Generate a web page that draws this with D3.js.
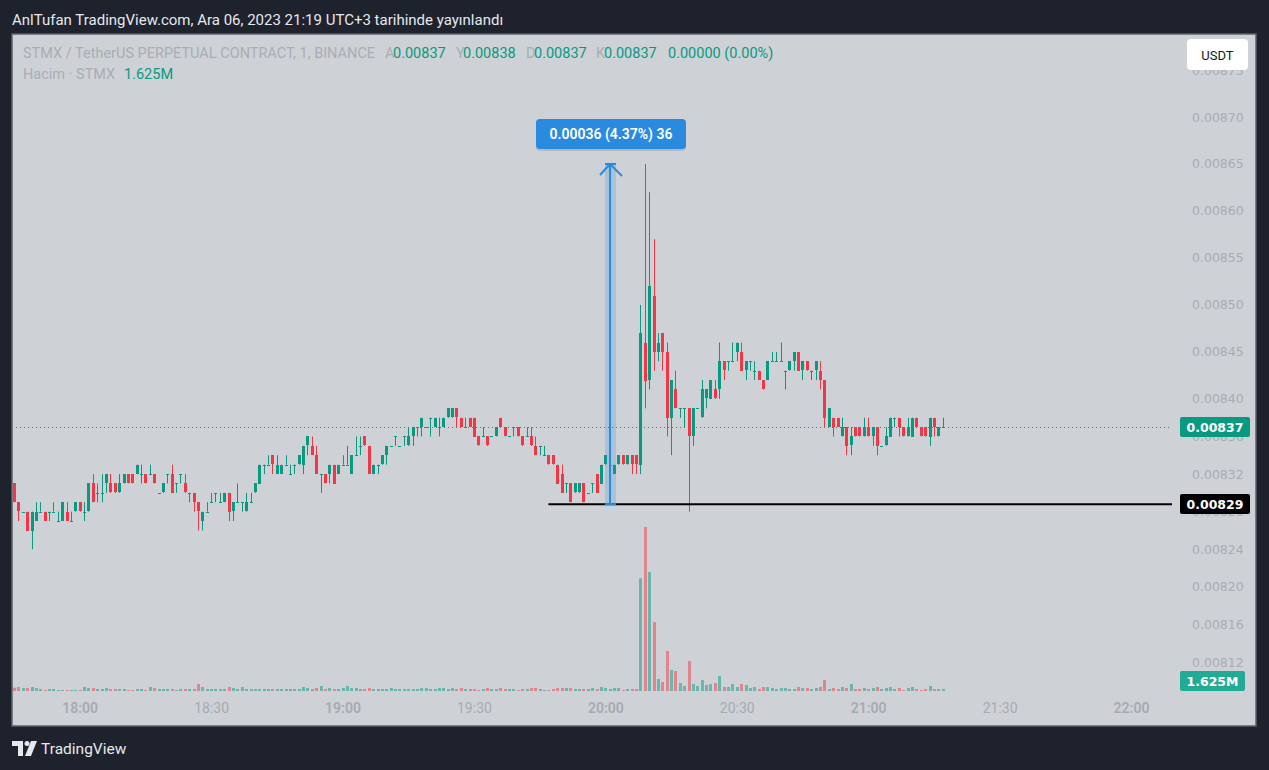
<!DOCTYPE html>
<html>
<head>
<meta charset="utf-8">
<script src="https://cdn.jsdelivr.net/npm/d3@7"></script>
<style>
  body { margin: 0; background: #1e222d; }
  svg { display: block; }
</style>
</head>
<body>
<div id="chart"></div>
<script>
// STMX/USDT perp, 1 minute candles from 17:45, prices in 0.00001 steps
const opens = [831,829,828,828,826,827,828,828,828,828,827,827,828,827,828,829,828,828,831,830,
  830,831,831,831,830,831,832,832,832,832,832,832,832,830,830,832,832,831,832,831,
  830,830,829,827,828,829,830,829,829,830,828,829,829,828,829,830,831,833,833,834,
  832,832,833,832,833,833,833,835,835,834,832,832,832,833,832,833,833,832,834,835,
  836,835,832,833,833,834,835,836,835,836,835,836,837,837,837,838,837,837,837,838,
  838,839,838,837,838,838,836,836,836,836,836,838,837,836,837,837,836,836,836,835,
  835,834,834,834,833,832,831,831,830,830,831,830,831,832,831,833,833,832,833,834,
  833,834,834,833,846,842,851,845,847,845,838,841,839,839,839,836,839,838,840,840,
  841,841,844,844,844,845,845,843,844,843,843,842,842,844,844,844,843,843,844,845,
  843,844,843,843,843,842,837,838,838,836,837,835,837,837,836,837,836,837,835,835,
  836,838,838,837,836,836,838,837,837,836,838,836,837];
const highs = [831,829,828,828,828,829,829,828,828,829,828,829,829,828,829,829,829,831,832,831,
  832,832,832,831,832,832,832,832,833,833,832,833,832,830,831,832,833,831,832,832,
  830,830,829,828,829,830,830,830,830,830,829,831,829,830,830,831,833,833,834,834,
  834,833,834,833,833,834,835,836,836,835,832,832,833,833,833,834,835,834,836,836,
  836,835,833,833,834,835,835,836,835,836,837,837,837,838,837,838,838,838,838,839,
  839,839,838,838,838,838,836,837,836,836,837,838,837,836,837,837,836,837,837,836,
  835,835,834,834,833,833,831,831,831,831,831,830,831,832,833,834,834,833,834,834,
  834,834,834,850,865,862,857,847,847,846,842,843,839,839,839,839,839,842,841,842,
  842,846,844,844,846,846,846,844,844,844,843,842,844,845,845,846,843,844,845,845,
  844,844,843,844,844,842,839,838,838,838,837,837,837,837,838,838,837,837,835,837,
  838,838,838,837,838,838,838,837,837,838,838,837,838];
const lows = [829,827,828,826,824,827,828,827,827,828,827,827,827,827,828,828,827,828,829,829,
  829,830,830,830,830,831,831,831,832,831,831,832,831,830,830,831,830,830,831,830,
  829,828,826,826,828,829,829,829,829,827,827,829,828,828,829,830,831,832,833,832,
  832,832,833,832,832,833,832,834,834,832,830,831,831,831,832,833,833,832,834,834,
  835,832,832,832,833,833,835,835,835,835,835,835,836,836,837,836,837,836,837,838,
  838,837,837,837,837,836,835,836,835,836,836,837,836,836,836,836,835,836,835,834,
  834,834,833,833,831,830,830,829,830,830,829,830,830,830,831,833,833,832,833,833,
  833,832,832,832,839,841,843,844,843,836,834,839,838,837,828,835,839,838,839,840,
  840,840,842,843,844,844,843,842,843,842,842,841,842,844,844,844,841,843,843,843,
  842,843,842,842,841,837,837,836,837,836,834,834,836,836,836,836,835,834,835,835,
  836,837,836,836,836,836,837,836,836,835,836,836,837];
const closes = [829,828,828,826,828,828,828,827,828,828,827,829,827,827,829,828,828,831,829,830,
  830,832,830,830,831,832,831,831,833,832,831,832,831,830,831,832,830,831,832,830,
  830,829,828,828,828,829,830,829,830,828,829,829,829,829,829,831,833,833,833,833,
  833,833,833,832,833,834,835,836,834,832,832,831,833,831,833,833,833,834,834,835,
  835,832,833,833,834,835,835,836,835,836,836,837,837,838,837,838,838,837,838,839,
  839,838,837,837,837,836,835,836,835,836,837,837,836,836,837,836,835,836,835,834,
  835,834,833,833,831,830,831,829,831,831,829,830,831,830,833,834,833,833,834,833,
  834,833,833,847,842,852,845,846,845,838,842,839,839,839,836,839,839,841,841,842,
  840,844,843,844,844,846,843,844,844,843,842,841,844,844,844,844,843,844,845,843,
  844,843,843,844,842,838,839,837,837,837,835,836,836,836,837,836,837,835,835,836,
  838,838,837,836,837,838,837,836,836,838,837,837,837];
// volume per candle, millions of STMX
const volumes = [2.6,3.2,2.4,2.4,3.2,2.4,1.6,0.8,1.6,1.6,0.8,0.8,0.8,0.8,0.8,0.8,3.2,2.4,2.4,1.6,
  1.6,2.4,1.6,1.6,1.6,1.6,0.8,0.8,1.6,1.6,0.8,3.2,2.4,1.6,1.6,1.6,1.6,0.8,1.6,1.6,
  1.6,1.6,5.6,3.2,1.6,1.6,1.6,1.6,1.6,3.2,2.4,1.6,3.2,1.6,1.6,1.6,1.6,1.6,1.6,1.6,
  1.6,1.6,1.6,1.6,1.6,1.6,3.2,2.4,1.6,2.4,4.0,1.6,2.4,1.6,1.6,2.4,4.0,2.4,2.4,1.6,
  1.6,2.4,1.6,1.6,1.6,1.6,2.4,1.6,1.6,1.6,1.6,1.6,1.6,2.4,2.4,1.6,1.6,2.4,2.4,1.6,
  2.4,1.6,2.4,1.6,1.6,1.6,0.8,1.6,2.4,1.6,1.6,2.4,1.6,1.6,1.6,0.8,1.6,1.6,2.4,2.4,
  1.6,0.8,0.8,1.6,2.4,2.4,2.4,2.4,1.6,1.6,1.6,1.6,2.4,1.6,3.2,2.4,1.6,2.4,2.4,0.8,
  1.6,1.6,1.6,90,131,95,55,9.6,7.2,32,16.8,16,6.4,4.0,24,5.6,4.0,8.8,4.8,5.6,
  6.4,12,3.2,3.2,5.6,3.2,5.6,4.8,2.4,3.2,1.6,3.2,3.2,2.4,1.6,2.4,2.4,1.6,1.6,3.2,
  2.4,2.4,1.6,2.4,3.2,8.8,1.6,2.4,1.6,3.2,2.4,5.6,1.6,1.6,2.4,1.6,2.4,3.2,1.6,2.4,
  3.2,1.6,2.4,0.8,2.4,3.2,1.6,0.8,1.6,4.0,1.6,1.6,1.625];

const priceTicks = [0.00875, 0.00870, 0.00865, 0.00860, 0.00855, 0.00850, 0.00845, 0.00840,
  0.00836, 0.00832, 0.00828, 0.00824, 0.00820, 0.00816, 0.00812];
const timeTickLabels = ["18:00", "18:30", "19:00", "19:30", "20:00", "20:30", "21:00", "21:30", "22:00"];

// drawing tool values
const measureFrom = 0.008288, measureTo = 0.00865, measureBars = 36, measureTime = "20:01";
const lineLevel = 0.008288, lineStart = "19:47";
const lastPrice = 0.00837;

const W = 1269, H = 770;
const panel = { left: 12, top: 34, right: 1256, bottom: 726 };
const plotRight = 1172, plotBottom = 697;
const green = "#089981", red = "#f23645";

const day = t => { const [h, m] = t.split(":").map(Number); return new Date(2023, 11, 6, h, m); };
const t0 = day("17:45");
const candles = opens.map((o, i) => ({
  time: d3.timeMinute.offset(t0, i),
  open: o / 1e5, high: highs[i] / 1e5, low: lows[i] / 1e5, close: closes[i] / 1e5,
  volume: volumes[i]
}));

const svg = d3.select("#chart").append("svg")
  .attr("width", W).attr("height", H)
  .style("font-family", "Roboto, 'DejaVu Sans', sans-serif");

svg.append("rect").attr("width", W).attr("height", H).attr("fill", "#1e222d");

// title
svg.append("text")
  .attr("x", 12).attr("y", 25)
  .attr("fill", "#e6e8ee").attr("font-size", 15)
  .text("AnlTufan TradingView.com, Ara 06, 2023 21:19 UTC+3 tarihinde yayınlandı");

// chart panel
svg.append("rect")
  .attr("x", panel.left).attr("y", panel.top)
  .attr("width", panel.right - panel.left).attr("height", panel.bottom - panel.top)
  .attr("fill", "#ced2d6").attr("stroke", "#5d616b").attr("stroke-width", 1.5);

// scales
const x = d3.scaleTime().domain([t0, day("22:00")]).range([14, 1131]);
const y = d3.scaleLinear().domain([0.00812, 0.00870]).range([662, 117]);
const yVol = d3.scaleLinear().domain([0, d3.max(volumes)]).range([691, 527]);

svg.append("clipPath").attr("id", "plot")
  .append("rect").attr("x", panel.left + 1).attr("y", panel.top)
  .attr("width", plotRight - panel.left - 1).attr("height", plotBottom - panel.top);

const plot = svg.append("g").attr("clip-path", "url(#plot)");

// volume
plot.append("g").selectAll("rect").data(candles).join("rect")
  .attr("x", d => Math.round(x(d.time)) - 1)
  .attr("y", d => yVol(d.volume))
  .attr("width", 3)
  .attr("height", d => Math.max(1, yVol(0) - yVol(d.volume)))
  .attr("fill", d => d.close >= d.open ? green : red)
  .attr("fill-opacity", 0.5);

// last price dotted line
plot.append("line")
  .attr("x1", panel.left).attr("x2", plotRight)
  .attr("y1", Math.round(y(lastPrice)) + 0.5).attr("y2", Math.round(y(lastPrice)) + 0.5)
  .attr("stroke", green).attr("stroke-dasharray", "1,3");

// candles
const cg = plot.append("g").selectAll("g").data(candles).join("g");
cg.append("line")
  .attr("x1", d => Math.round(x(d.time)) + 0.5).attr("x2", d => Math.round(x(d.time)) + 0.5)
  .attr("y1", d => y(d.high)).attr("y2", d => y(d.low))
  .attr("stroke", d => d.close >= d.open ? green : red);
cg.append("rect")
  .attr("x", d => Math.round(x(d.time)) - 1)
  .attr("y", d => Math.round(y(Math.max(d.open, d.close))))
  .attr("width", 3)
  .attr("height", d => Math.max(1, Math.round(Math.abs(y(d.open) - y(d.close)))))
  .attr("fill", d => d.close >= d.open ? green : red);

// horizontal line drawing
plot.append("line")
  .attr("x1", x(day(lineStart))).attr("x2", plotRight)
  .attr("y1", y(lineLevel)).attr("y2", y(lineLevel))
  .attr("stroke", "#000").attr("stroke-width", 2);

// measure tool
const mx = Math.round(x(day(measureTime)));
const mTop = y(measureTo), mBot = y(measureFrom);
plot.append("rect")
  .attr("x", mx - 5).attr("y", mTop).attr("width", 11).attr("height", mBot - mTop)
  .attr("fill", "#2a8ae0").attr("fill-opacity", 0.22);
const mg = plot.append("g").attr("stroke", "#2a8ae0").attr("stroke-width", 2).attr("fill", "none");
mg.append("line").attr("x1", mx).attr("x2", mx).attr("y1", mTop).attr("y2", mBot);
mg.append("line").attr("x1", mx - 5).attr("x2", mx + 6).attr("y1", mTop).attr("y2", mTop);
mg.append("line").attr("x1", mx - 5).attr("x2", mx + 6).attr("y1", mBot).attr("y2", mBot);
mg.append("path").attr("d", `M${mx - 10},${mTop + 11}L${mx},${mTop}L${mx + 12},${mTop + 12}`);

const diff = measureTo - measureFrom;
const mLabel = `${diff.toFixed(5)} (${(diff / measureFrom * 100).toFixed(2)}%) ${measureBars}`;
svg.append("rect")
  .attr("x", mx - 74).attr("y", mTop - 45).attr("width", 150).attr("height", 30).attr("rx", 4)
  .attr("fill", "#000").attr("fill-opacity", 0.12).attr("transform", "translate(0,2)");
svg.append("rect")
  .attr("x", mx - 74).attr("y", mTop - 45).attr("width", 150).attr("height", 30).attr("rx", 4)
  .attr("fill", "#2a8ae0");
svg.append("text")
  .attr("x", mx + 1).attr("y", mTop - 30).attr("dy", "0.35em")
  .attr("text-anchor", "middle").attr("fill", "#fff").attr("font-size", 14).attr("font-weight", 600)
  .text(mLabel);

// price axis
const yAxis = svg.append("g")
  .attr("transform", `translate(${plotRight + 14},0)`)
  .call(d3.axisRight(y).tickValues(priceTicks).tickSize(0).tickPadding(6).tickFormat(d3.format(".5f")));
yAxis.select(".domain").remove();
yAxis.selectAll("text").attr("fill", "#a8acb4").attr("font-size", 12.5)
  .attr("font-family", "'DejaVu Sans', sans-serif");

// time axis
const xAxis = svg.append("g")
  .attr("transform", `translate(0,${plotBottom})`)
  .call(d3.axisBottom(x).tickValues(timeTickLabels.map(day)).tickSize(0).tickPadding(6)
    .tickFormat(d3.timeFormat("%H:%M")));
xAxis.select(".domain").remove();
xAxis.selectAll("text").attr("fill", "#a6aab2").attr("font-size", 14)
  .attr("font-weight", d => d.getMinutes() === 0 ? 600 : 400)
  .attr("font-family", "Roboto, sans-serif");

// USDT button
svg.append("rect").attr("x", 1187).attr("y", 39).attr("width", 61).attr("height", 31).attr("rx", 4)
  .attr("fill", "#fff");
svg.append("text").attr("x", 1217.5).attr("y", 55).attr("dy", "0.35em").attr("text-anchor", "middle")
  .attr("fill", "#131722").attr("font-size", 13).text("USDT");

// price labels on the axis
function axisLabel(val, txt, fill, width) {
  const cy = Math.min(Math.round(val), 681);
  svg.append("rect").attr("x", 1180).attr("y", cy - 10).attr("width", width).attr("height", 20)
    .attr("rx", 2).attr("fill", fill);
  svg.append("text").attr("x", 1180 + width / 2).attr("y", cy).attr("dy", "0.36em")
    .attr("text-anchor", "middle").attr("fill", "#fff").attr("font-size", 12.5).attr("font-weight", 600)
    .attr("font-family", "'DejaVu Sans', sans-serif").text(txt);
}
axisLabel(y(lastPrice), d3.format(".5f")(lastPrice), green, 70);
axisLabel(y(lineLevel), d3.format(".5f")(lineLevel), "#000", 70);
const lastVol = volumes[volumes.length - 1];
axisLabel(yVol(lastVol), d3.format(".4~")(lastVol) + "M", "#22ab94", 65);

// legend lines
const last = candles[candles.length - 1], prev = candles[candles.length - 2];
const f5 = d3.format(".5f");
const chg = last.close - prev.close;
const legendGray = "#a9adb5";
const legend1 = [
  ["STMX / TetherUS PERPETUAL CONTRACT, 1, BINANCE", 23, legendGray],
  ["A", 385, legendGray], [f5(last.open), 393, green],
  ["Y", 456, legendGray], [f5(last.high), 463, green],
  ["D", 526, legendGray], [f5(last.low), 534, green],
  ["K", 596, legendGray], [f5(last.close), 604, green],
  [`${f5(chg)} (${(chg / prev.close * 100).toFixed(2)}%)`, 668, green]
];
const legend2 = [["Hacim · STMX", 23, legendGray], [d3.format(".4~")(lastVol) + "M", 124, green]];
svg.append("g").selectAll("text").data(legend1).join("text")
  .attr("x", d => d[1]).attr("y", 53).attr("dy", "0.35em")
  .attr("fill", d => d[2]).attr("font-size", 14.5).text(d => d[0]);
svg.append("g").selectAll("text").data(legend2).join("text")
  .attr("x", d => d[1]).attr("y", 74).attr("dy", "0.35em")
  .attr("fill", d => d[2]).attr("font-size", 14.5).text(d => d[0]);

// TradingView logo
const logo = svg.append("g").attr("fill", "#e6e8ee");
logo.append("path").attr("d", "M12,741h11v15h-5v-10h-6z");
logo.append("circle").attr("cx", 27).attr("cy", 743.5).attr("r", 2.5);
logo.append("path").attr("d", "M31,741h6l-6,15h-6z");
svg.append("text").attr("x", 41).attr("y", 754).attr("fill", "#e6e8ee").attr("font-size", 15.5)
  .text("TradingView");
</script>
</body>
</html>
